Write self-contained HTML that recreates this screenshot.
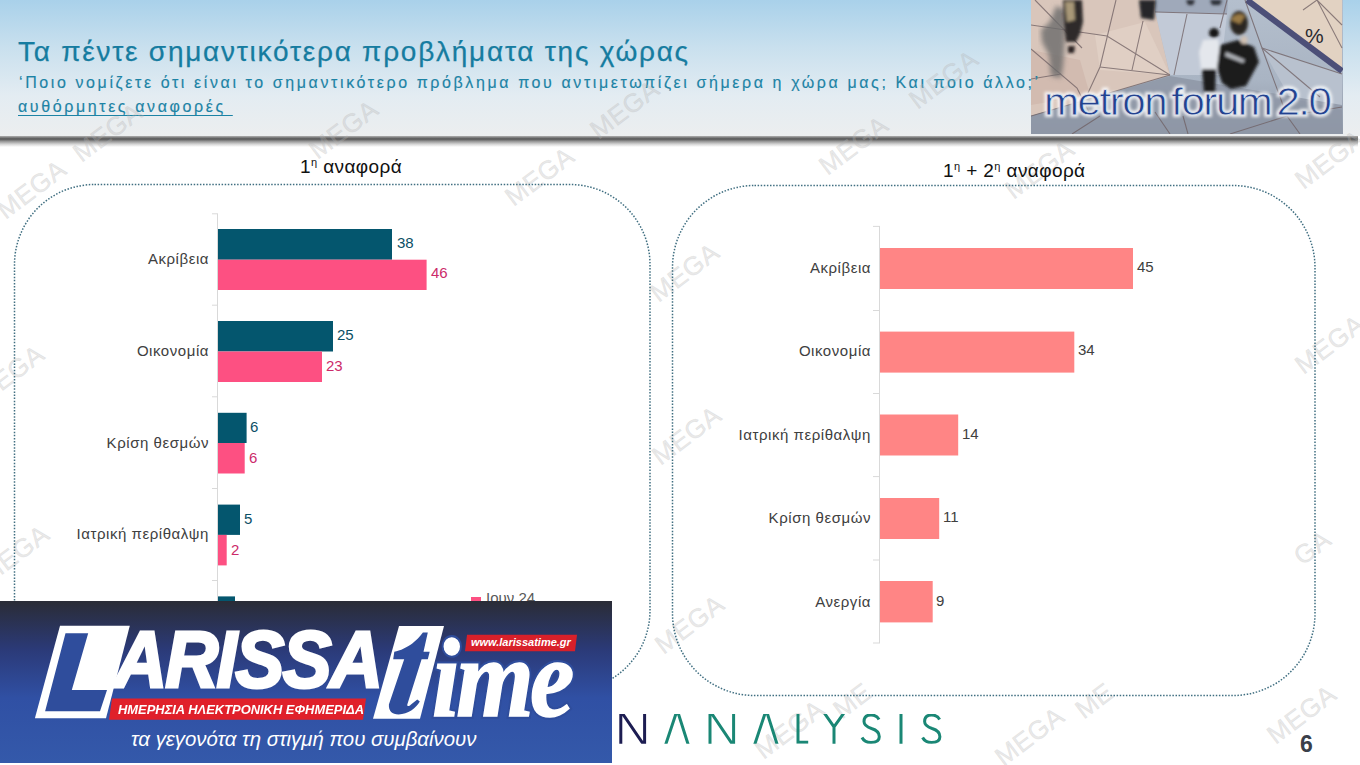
<!DOCTYPE html>
<html><head><meta charset="utf-8">
<style>
html,body{margin:0;padding:0;}
body{width:1360px;height:765px;position:relative;overflow:hidden;background:#fff;font-family:"Liberation Sans",sans-serif;}
.a{position:absolute;white-space:nowrap;}
#hdr{position:absolute;left:0;top:0;width:1360px;height:136px;background:linear-gradient(to bottom,#a9d1ea 0%,#c9e0ee 35%,#e3ecf2 70%,#eceeef 100%);}
#shadow{position:absolute;left:0;top:136px;width:1358px;height:11px;background:linear-gradient(to bottom,#b0b0b0 0%,#626262 22%,#5e5e5e 30%,#9a9a9a 50%,#d6d6d6 75%,#fff 100%);}
.title{left:18px;top:36px;font-size:28px;letter-spacing:1.75px;color:#167ca0;-webkit-text-stroke:0.25px #167ca0;}
.sub{left:19px;top:73.5px;font-size:16px;letter-spacing:2.6px;color:#1c83a5;-webkit-text-stroke:0.15px #1c83a5;}
.sub2{left:18px;top:98px;font-size:16px;letter-spacing:2.6px;color:#1c83a5;-webkit-text-stroke:0.15px #1c83a5;text-decoration:underline;text-underline-offset:3px;}
.ct{font-size:19px;color:#111;letter-spacing:0.4px;}
.ct sup{font-size:11px;vertical-align:0;position:relative;top:-7px;}
.lbl{font-size:15px;letter-spacing:0.55px;color:#404040;text-align:right;}
.val{font-size:15px;}
</style></head><body>
<div id="hdr"></div>
<div id="shadow"></div>

<!-- photo -->
<svg class="a" style="left:1031px;top:0" width="312" height="134" viewBox="1031 0 312 134">
  <defs>
    <linearGradient id="bg1" x1="0" y1="0" x2="0" y2="1">
      <stop offset="0" stop-color="#b4bfcd"/><stop offset="0.6" stop-color="#a9b4c3"/><stop offset="1" stop-color="#8f98a7"/>
    </linearGradient>
    <filter id="blur2"><feGaussianBlur stdDeviation="2.5"/></filter>
    <filter id="blur1"><feGaussianBlur stdDeviation="1.4"/></filter>
    <filter id="glow"><feGaussianBlur stdDeviation="1.6"/></filter>
  </defs>
  <rect x="1031" y="0" width="312" height="134" fill="url(#bg1)"/>
  <!-- light panels in blue area -->
  <polygon points="1155,0 1228,0 1227,14 1155,12" fill="#9fa9ba"/>
  <polygon points="1155,12 1227,14 1220,75 1170,75" fill="#c2cad7"/>
  <polygon points="1262,48 1342,74 1342,110 1290,98" fill="#b8c1ce"/>
  <!-- beige region -->
  <polygon points="1031,0 1155,0 1155,11.6 1170,75.3 1031,115.8" fill="#d9c6bb"/>
  <polygon points="1095,35 1145,22 1170,75 1100,70" fill="#e0cfc4"/>
  <polygon points="1031,50 1080,60 1090,95 1031,105" fill="#d2bbb0"/>
  <!-- lower band -->
  <polygon points="1031,116 1170,76 1342,105 1342,134 1031,134" fill="#8e97a6" opacity="0.85"/>
  <!-- top-right beige triangle -->
  <polygon points="1252,0 1342,0 1342,69" fill="#e2d2c2"/>
  <line x1="1247" y1="0" x2="1342" y2="71" stroke="#4c4f78" stroke-width="6"/>
  <!-- lines -->
  <g stroke="#6e5f62" stroke-width="1.1" fill="none" opacity="0.75">
    <path d="M1035,0 L1082,48"/>
    <path d="M1031,25 L1107,36 L1170,75"/>
    <path d="M1116,0 L1100,67 L1088,93"/>
    <path d="M1100,67 L1170,75"/>
    <path d="M1143,21 L1132,70"/>
    <path d="M1031,49 L1077,88 L1091,116"/>
    <path d="M1031,79 L1061,74"/>
    <path d="M1170,75 L1031,116"/>
    <path d="M1155,12 L1227,14"/>
    <path d="M1227,0 L1220,28"/>
    <path d="M1187,14 L1174,75"/>
    <path d="M1245,0 L1262,48 L1287,116"/>
    <path d="M1262,48 L1342,74"/>
    <path d="M1262,48 L1320,97"/>
    <path d="M1317,0 L1342,25 M1317,0 L1342,48 M1317,0 L1303,10"/>
    <path d="M1287,116 L1342,107"/>
    <path d="M1072,134 L1100,116 M1170,134 L1155,112 M1188,134 L1183,116 M1287,116 L1300,134 M1230,134 L1287,116"/>
  </g>
  <!-- people & shadows -->
  <g filter="url(#blur2)">
    <path d="M1056,6 L1066,10 L1065,40 L1063,66 L1061,78 L1051,76 L1049,55 L1042,42 L1041,30 L1050,22 Z" fill="#6a6a6a" opacity="0.8"/>
  </g>
  <g filter="url(#blur1)">
    <path d="M1063,0 L1082,0 L1083,22 L1080,34 L1076,42 L1066,42 L1064,24 Z" fill="#2e2b2a"/><path d="M1065,2 L1074,2 L1075,20 L1067,22 Z" fill="#a89878"/><path d="M1068,46 L1075,46 L1074,53 L1068,53 Z" fill="#2a2020"/>
    <path d="M1139,0 L1156,0 L1154,20 L1141,18 Z" fill="#25282c"/>
    <path d="M1186,0 L1195,0 L1193,5 L1188,5 Z M1210,0 L1222,0 L1220,5 L1212,5Z" fill="#2c2f35"/>
    <circle cx="1214" cy="33" r="5" fill="#151515"/>
    <path d="M1203,40 L1218,39 L1221,55 L1219,70 L1201,70 L1199,52 Z" fill="#e4e7ec"/>
    <path d="M1202,69 L1216,69 L1215,92 L1204,92 Z" fill="#1c1c1e"/>
    <path d="M1220,45 L1238,40 L1254,47 L1259,62 L1253,73 L1246,86 L1231,89 L1222,83 L1217,68 Z" fill="#1b1a1d"/>
    <ellipse cx="1239" cy="23" rx="9" ry="12" fill="#2b2520"/>
    <path d="M1231,20 C1234,14 1240,12 1245,16 L1240,24 Z" fill="#9a7a45"/>
    <ellipse cx="1244" cy="40" rx="3.5" ry="4" fill="#cfc0b2"/>
    <path d="M1226,52 L1245,60 L1243,63 L1225,56 Z" fill="#d9dde3" opacity="0.8"/>
  </g>
  <!-- percent -->
  <text x="1305" y="43" font-family="Liberation Sans" font-size="21" fill="#2a2a30">%</text>
  <!-- metron forum text with glow -->
  <g font-family="Liberation Sans" font-size="40" word-spacing="-5" letter-spacing="-1.35" transform="translate(1044,115) scale(1.05,0.97)">
    <text x="0" y="0" fill="#ffffff" stroke="#ffffff" stroke-width="4" filter="url(#glow)" opacity="0.85">metron forum 2.0</text>
    <text x="0" y="0" fill="#23428f" stroke="#d8dfea" stroke-width="0.9">metron forum 2.0</text>
  </g>
</svg>

<div class="a title">Τα πέντε σημαντικότερα προβλήματα της χώρας</div>
<div class="a sub">‘Ποιο νομίζετε ότι είναι το σημαντικότερο πρόβλημα που αντιμετωπίζει σήμερα η χώρα μας; Και ποιο άλλο;’</div>
<div class="a sub2">αυθόρμητες αναφορές&nbsp;</div>

<svg class="a" style="left:0;top:0;pointer-events:none" width="1360" height="765">
<g font-family="Liberation Sans" font-size="26" letter-spacing="0.5" fill="#b4b4b4" fill-opacity="0.3" stroke="#b4b4b4" stroke-opacity="0.2" stroke-width="0.7" text-anchor="middle">
<text x="32" y="198" transform="rotate(-37 32 190)">MEGA</text>
<text x="108" y="141" transform="rotate(-37 108 133)">MEGA</text>
<text x="344" y="138" transform="rotate(-37 344 130)">MEGA</text>
<text x="540" y="185" transform="rotate(-37 540 177)">MEGA</text>
<text x="625" y="118" transform="rotate(-37 625 110)">MEGA</text>
<text x="854" y="154" transform="rotate(-37 854 146)">MEGA</text>
<text x="944" y="88" transform="rotate(-37 944 80)">MEGA</text>
<text x="1040" y="178" transform="rotate(-37 1040 170)">MEGA</text>
<text x="1330" y="168" transform="rotate(-37 1330 160)">MEGA</text>
<text x="1330" y="353" transform="rotate(-37 1330 345)">MEGA</text>
<text x="685" y="281" transform="rotate(-37 685 273)">MEGA</text>
<text x="687" y="444" transform="rotate(-37 687 436)">MEGA</text>
<text x="10" y="383" transform="rotate(-37 10 375)">MEGA</text>
<text x="15" y="563" transform="rotate(-37 15 555)">MEGA</text>
<text x="690" y="633" transform="rotate(-37 690 625)">MEGA</text>
<text x="790" y="738" transform="rotate(-37 790 730)">MEGA</text>
<text x="829" y="698" text-anchor="start" transform="rotate(-37 868 690)">ME</text>
<text x="1030" y="745" transform="rotate(-37 1030 737)">MEGA</text>
<text x="1071" y="698" text-anchor="start" transform="rotate(-37 1110 690)">ME</text>
<text x="1302" y="723" transform="rotate(-37 1302 715)">MEGA</text>
<text x="1336" y="568" text-anchor="end" transform="rotate(-37 1297 560)">GA</text>
</g></svg>
<!-- chart frames -->
<svg class="a" style="left:0;top:0" width="1360" height="765">
  <rect x="14.5" y="184.5" width="635.5" height="506" rx="80" ry="80" fill="none" stroke="#3f6e80" stroke-width="1.5" stroke-dasharray="1.5 1.6"/>
  <rect x="672.5" y="185.5" width="642.5" height="510" rx="82" ry="82" fill="none" stroke="#3f6e80" stroke-width="1.5" stroke-dasharray="1.5 1.6"/>
  <!-- left axis -->
  <line x1="217.5" y1="214" x2="217.5" y2="601" stroke="#d9d9d9" stroke-width="1"/>
  <g stroke="#d9d9d9" stroke-width="1">
    <line x1="212" y1="213.8" x2="218" y2="213.8"/>
    <line x1="212" y1="305.2" x2="218" y2="305.2"/>
    <line x1="212" y1="396.8" x2="218" y2="396.8"/>
    <line x1="212" y1="488.5" x2="218" y2="488.5"/>
    <line x1="212" y1="580.5" x2="218" y2="580.5"/>
  </g>
  <g>
    <rect x="218" y="229" width="174" height="30.7" fill="#04566e"/>
    <rect x="218" y="259.7" width="208.6" height="30.3" fill="#fd5082"/>
    <rect x="218" y="321" width="115" height="30.5" fill="#04566e"/>
    <rect x="218" y="351.5" width="104" height="30.5" fill="#fd5082"/>
    <rect x="218" y="412.8" width="28.6" height="30.2" fill="#04566e"/>
    <rect x="218" y="443" width="26.7" height="30.5" fill="#fd5082"/>
    <rect x="218" y="504.6" width="22" height="30.3" fill="#04566e"/>
    <rect x="218" y="534.9" width="8.7" height="30.5" fill="#fd5082"/>
    <rect x="218" y="596.4" width="17" height="6" fill="#04566e"/>
  </g>
  <!-- right axis -->
  <line x1="879.5" y1="226" x2="879.5" y2="643" stroke="#d9d9d9" stroke-width="1"/>
  <g stroke="#d9d9d9" stroke-width="1">
    <line x1="873" y1="226.4" x2="880" y2="226.4"/>
    <line x1="873" y1="310.5" x2="880" y2="310.5"/>
    <line x1="873" y1="393.5" x2="880" y2="393.5"/>
    <line x1="873" y1="476.6" x2="880" y2="476.6"/>
    <line x1="873" y1="560" x2="880" y2="560"/>
    <line x1="873" y1="643" x2="880" y2="643"/>
  </g>
  <g fill="#ff8585">
    <rect x="880" y="248" width="253" height="41"/>
    <rect x="880" y="331.6" width="194.3" height="41"/>
    <rect x="880" y="414.5" width="78.2" height="41"/>
    <rect x="880" y="498" width="59.2" height="41"/>
    <rect x="880" y="581" width="52.7" height="41.4"/>
  </g>
</svg>

<div class="a ct" style="left:300px;top:156px;">1<sup>η</sup> αναφορά</div>
<div class="a ct" style="left:943px;top:160px;">1<sup>η</sup> + 2<sup>η</sup> αναφορά</div>

<!-- left labels -->
<div class="a lbl" style="right:1151px;top:250px;">Ακρίβεια</div>
<div class="a lbl" style="right:1151px;top:342px;">Οικονομία</div>
<div class="a lbl" style="right:1151px;top:434px;">Κρίση θεσμών</div>
<div class="a lbl" style="right:1151px;top:525px;">Ιατρική περίθαλψη</div>
<div class="a val" style="left:397px;top:234px;color:#0b4f66;">38</div>
<div class="a val" style="left:431px;top:264px;color:#cc2b6a;">46</div>
<div class="a val" style="left:337px;top:326px;color:#0b4f66;">25</div>
<div class="a val" style="left:326px;top:357px;color:#cc2b6a;">23</div>
<div class="a val" style="left:250px;top:418px;color:#0b4f66;">6</div>
<div class="a val" style="left:249px;top:449px;color:#cc2b6a;">6</div>
<div class="a val" style="left:244px;top:510px;color:#0b4f66;">5</div>
<div class="a val" style="left:231px;top:541px;color:#cc2b6a;">2</div>

<!-- right labels -->
<div class="a lbl" style="right:489px;top:259px;">Ακρίβεια</div>
<div class="a lbl" style="right:489px;top:342px;">Οικονομία</div>
<div class="a lbl" style="right:489px;top:426px;">Ιατρική περίθαλψη</div>
<div class="a lbl" style="right:489px;top:509px;">Κρίση θεσμών</div>
<div class="a lbl" style="right:489px;top:593px;">Ανεργία</div>
<div class="a val" style="left:1137px;top:258px;color:#404040;font-size:15px;">45</div>
<div class="a val" style="left:1078px;top:341px;color:#404040;font-size:15px;">34</div>
<div class="a val" style="left:962px;top:425px;color:#404040;font-size:15px;">14</div>
<div class="a val" style="left:943px;top:508px;color:#404040;font-size:15px;">11</div>
<div class="a val" style="left:936px;top:592px;color:#404040;font-size:15px;">9</div>


<div class="a" style="left:471px;top:597px;width:10px;height:6px;background:#fd5082;"></div>
<div class="a" style="left:486px;top:589px;font-size:15px;color:#595959;">Ιουν 24</div>
<!-- LARISSA banner -->
<div class="a" style="left:0;top:601px;width:612px;height:162px;background:linear-gradient(to bottom,#2a2c36 0%,#2b3a78 30%,#3050a4 60%,#3459aa 100%);overflow:hidden;">
<svg width="612" height="162" style="position:absolute;left:0;top:0">
  <!-- L box -->
  <polygon points="60,24.7 129.8,24.7 106,117.2 34.9,117.2" fill="#fff"/>
  <polygon points="65.5,32.2 88.2,32.2 71.8,89 107,89 100,110.2 45.1,110.2" fill="#2f4d9c"/>
  <!-- red bar -->
  <polygon points="112,97.6 366,97.6 363,118.8 109,118.8" fill="#e0202a"/>
  <!-- t box -->
  <polygon points="399,24.9 444,24.9 420,117.8 373,117.8" fill="#fff"/>
  <!-- url pill -->
  <polygon points="467,33.8 577,33.8 575,50.3 465,50.3" fill="#d8202a"/>
</svg>
<div class="a" style="left:114px;top:13px;font-size:80px;line-height:92px;font-weight:bold;font-style:italic;color:#fff;-webkit-text-stroke:3px #fff;letter-spacing:-2px;transform:scaleX(0.92);transform-origin:0 0;">ARISSA</div>
<div class="a" style="left:118px;top:100.5px;font-size:13.6px;font-weight:bold;font-style:italic;color:#fff;transform:scaleX(0.95);transform-origin:0 0;">ΗΜΕΡΗΣΙΑ ΗΛΕΚΤΡΟΝΙΚΗ ΕΦΗΜΕΡΙΔΑ</div>
<svg width="612" height="162" style="position:absolute;left:0;top:0"><g transform="translate(0,-601)">
<path d="M422.9,632.5 L427.8,632.5 L423.5,651.7 L429.7,651.7 L427.8,659.2 L421.6,659.2 L407.3,704.5 C407,706.5 409,706.5 411,704.5 L417.3,699.5 L419.8,701.5 C416,708 408,714.4 398.6,714.4 C392,714.4 388.5,711 388.9,704.5 L404.2,659.2 L393.2,659.2 L394.3,651.7 C400,651 408,647 412.3,643.6 C416,640.5 420,636.5 422.9,632.5 Z" fill="#2f4d9c"/>
</g></svg>
<div class="a" style="left:432px;top:17px;font-size:112px;line-height:120px;font-weight:bold;font-style:italic;color:#fff;font-family:'Liberation Serif',serif;letter-spacing:-4px;transform:scaleX(0.89);transform-origin:0 0;-webkit-text-stroke:6px #2f4d9c;paint-order:stroke fill;">ime</div>
<div class="a" style="left:432px;top:17px;font-size:112px;line-height:120px;font-weight:bold;font-style:italic;color:#fff;font-family:'Liberation Serif',serif;letter-spacing:-4px;transform:scaleX(0.89);transform-origin:0 0;-webkit-text-stroke:1.6px #fff;">ime</div>
<div class="a" style="left:471px;top:35px;font-size:11px;font-weight:bold;font-style:italic;color:#fff;">www.larissatime.gr</div>
<div class="a" style="left:131px;top:127px;font-size:20.4px;font-style:italic;color:#fff;">τα γεγονότα τη στιγμή που συμβαίνουν</div>
</div>

<!-- NANALYSIS -->
<svg class="a" style="left:600px;top:700px" width="360" height="60">
  <defs><clipPath id="nc"><rect x="0" y="13.9" width="360" height="29.9"/></clipPath></defs>
  <g fill="none" stroke-width="3" stroke-linejoin="miter" stroke-miterlimit="10" stroke-linecap="butt" clip-path="url(#nc)">
    <path d="M20.8,48 V11 L44.6,46 M44.6,48 V10" stroke="#1d1d52"/>
    <g stroke="#1a8775">
    <path d="M64.2,49 L77.2,10 L89.6,49"/>
    <path d="M110,48 V11 L133.6,46 M133.6,48 V10"/>
    <path d="M153.2,49 L166.2,10 L178.6,49"/>
    <path d="M198,10 V42.3 H208.2"/>
    <path d="M221.5,9 L234,26.8 L246.8,9 M234,26.8 V48"/>
    <path d="M279,19.5 C277,15.5 274,15 271,15 C266.5,15 264,17.5 264,21.5 C264,25.5 267,27 271.5,28.5 C276.5,30 279.3,32.5 279.3,36.8 C279.3,40.5 276,42.5 271,42.5 C266.5,42.5 263.5,40.5 262,37.5"/>
    <path d="M301,10 V48"/>
    <path d="M339.6,19.5 C337.6,15.5 334.6,15 331.6,15 C327.1,15 324.6,17.5 324.6,21.5 C324.6,25.5 327.6,27 332.1,28.5 C337.1,30 339.9,32.5 339.9,36.8 C339.9,40.5 336.6,42.5 331.6,42.5 C327.1,42.5 324.1,40.5 322.6,37.5"/>
    </g>
  </g>
</svg>

<div class="a" style="left:1300px;top:731px;font-size:23px;font-weight:bold;color:#3a3f4a;">6</div>

</body></html>
